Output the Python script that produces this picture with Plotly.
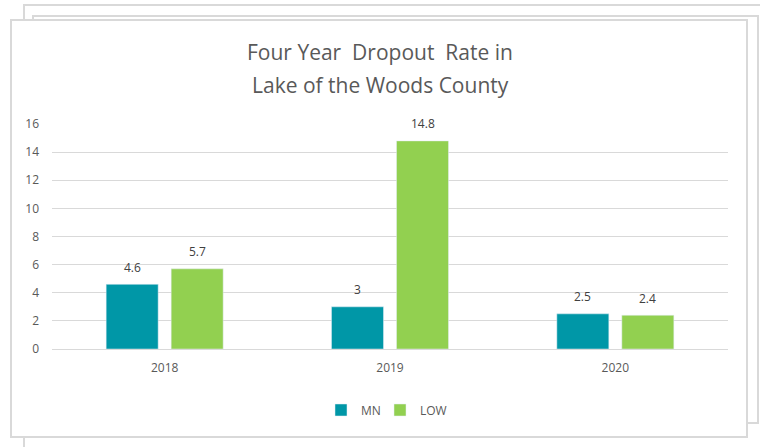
import plotly.graph_objects as go

years = ["2018", "2019", "2020"]
mn_values = [4.6, 3, 2.5]
low_values = [5.7, 14.8, 2.4]
y_ticks = [0, 2, 4, 6, 8, 10, 12, 14, 16]
title_lines = ["Four Year  Dropout  Rate in", "Lake of the Woods County"]

W, H = 760, 447
L, R, T, B = 52, 728, 124, 349


def px_x(p):
    return (p - L) / (R - L)


def px_y(p):
    return (B - p) / (B - T)


fig = go.Figure()
fig.add_trace(go.Bar(name="MN", x=years, y=mn_values, marker_color="#0097A7", legend="legend"))
fig.add_trace(go.Bar(name="LOW", x=years, y=low_values, marker_color="#92D050", legend="legend2"))

frame_col = "#D9D9D9"
shapes = []
for (x0, y0, x1, y1) in [(24, 5, 790, 470), (33, 16, 758, 423), (11, 20, 747, 437)]:
    shapes.append(dict(
        type="rect", xref="paper", yref="paper",
        x0=px_x(x0), x1=px_x(x1), y0=px_y(y1), y1=px_y(y0),
        line=dict(color=frame_col, width=2), fillcolor="white", layer="below",
    ))

annotations = []
for line, ypx in zip(title_lines, [52, 85]):
    annotations.append(dict(
        text=line, xref="paper", yref="paper",
        x=px_x(380), y=px_y(ypx), xanchor="center", yanchor="middle",
        showarrow=False, font=dict(size=21, color="#595959"),
    ))
for series, shift in [(mn_values, -32.5), (low_values, 32.5)]:
    for i, v in enumerate(series):
        annotations.append(dict(
            x=i, y=v, xref="x", yref="y", text=f"{v:g}", showarrow=False,
            xshift=shift, yshift=17, font=dict(size=12, color="#404040"),
        ))

legend_style = dict(orientation="h", xanchor="left", y=px_y(410), yanchor="middle",
                    font=dict(size=12, color="#595959"), bgcolor="rgba(0,0,0,0)")

fig.update_layout(
    width=W, height=H,
    margin=dict(l=L, r=W - R, t=T, b=H - B),
    paper_bgcolor="white", plot_bgcolor="rgba(0,0,0,0)",
    font=dict(family="Open Sans, sans-serif", size=12, color="#595959"),
    barmode="group", bargap=0.423, bargroupgap=0.2,
    shapes=shapes,
    showlegend=True,
    legend=dict(x=px_x(321), **legend_style),
    legend2=dict(x=px_x(380), **legend_style),
    annotations=annotations,
)
fig.update_yaxes(range=[0, 16], tickvals=y_ticks, showgrid=True, gridcolor=frame_col,
                 gridwidth=1, zeroline=True, zerolinecolor=frame_col, zerolinewidth=1,
                 showline=False, ticklabelstandoff=12, tickfont=dict(size=12, color="#595959"))
fig.update_xaxes(type="category", categoryorder="array", categoryarray=years,
                 range=[-0.5, len(years) - 0.5],
                 showline=False, tickfont=dict(size=12, color="#595959"), ticklabelstandoff=10)

fig.write_html("out.html", config={"displayModeBar": False},
               post_script="document.body.style.margin='0';document.body.style.overflow='hidden';")
